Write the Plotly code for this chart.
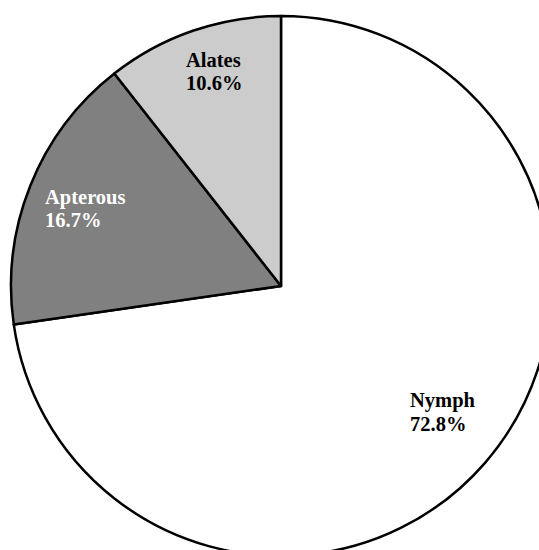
import math
import plotly.graph_objects as go

categories = ["Nymph", "Apterous", "Alates"]
percentages = [72.8, 16.7, 10.6]
pct_labels = ["72.8%", "16.7%", "10.6%"]

slice_colors = ["#ffffff", "#808080", "#cccccc"]
text_colors = ["#000000", "#ffffff", "#000000"]
label_radius = [0.76, 0.78, 0.84]      # radial placement of each label (fraction of R)
label_nudge = [(-28, -8), (-43, 1), (-23, 0)]  # px offsets of the left edge of each label block

W, H = 562, 572
CX, CY, R = 281, 286, 270

fig = go.Figure(go.Pie(
    labels=categories,
    values=percentages,
    sort=False,
    direction="clockwise",
    rotation=0,
    marker=dict(colors=slice_colors, line=dict(color="#000000", width=2.5)),
    textinfo="none",
    hoverinfo="label+value",
    showlegend=False,
    domain=dict(x=[(CX - R) / W, (CX + R) / W], y=[(H - CY - R) / H, (H - CY + R) / H]),
))

total = sum(percentages)
cum = 0.0
annotations = []
font_family = "Liberation Serif, Times New Roman, serif"
for name, val, pl, tc, rf, (dx, dy) in zip(categories, percentages, pct_labels, text_colors, label_radius, label_nudge):
    mid = (cum + val / 2) / total * 2 * math.pi
    cum += val
    px = CX + rf * R * math.sin(mid)
    py = CY - rf * R * math.cos(mid)
    xp = px / W
    yp = 1 - py / H
    for txt, ys in ((name, 11.5), (pl, -11.5)):
        annotations.append(dict(
            x=xp, y=yp, xref="paper", yref="paper",
            text=txt, showarrow=False, xanchor="left", yanchor="middle",
            xshift=dx, yshift=ys - dy,
            font=dict(family=font_family, size=20.5, color=tc, weight="bold"),
        ))

fig.update_layout(
    width=W, height=H, autosize=False,
    margin=dict(l=0, r=0, t=0, b=0),
    paper_bgcolor="#ffffff", plot_bgcolor="#ffffff",
    annotations=annotations,
)

fig.write_html(
    "out.html",
    config={"displayModeBar": False},
    post_script="document.body.style.margin='0';document.body.style.overflow='hidden';document.documentElement.style.overflow='hidden';",
)
